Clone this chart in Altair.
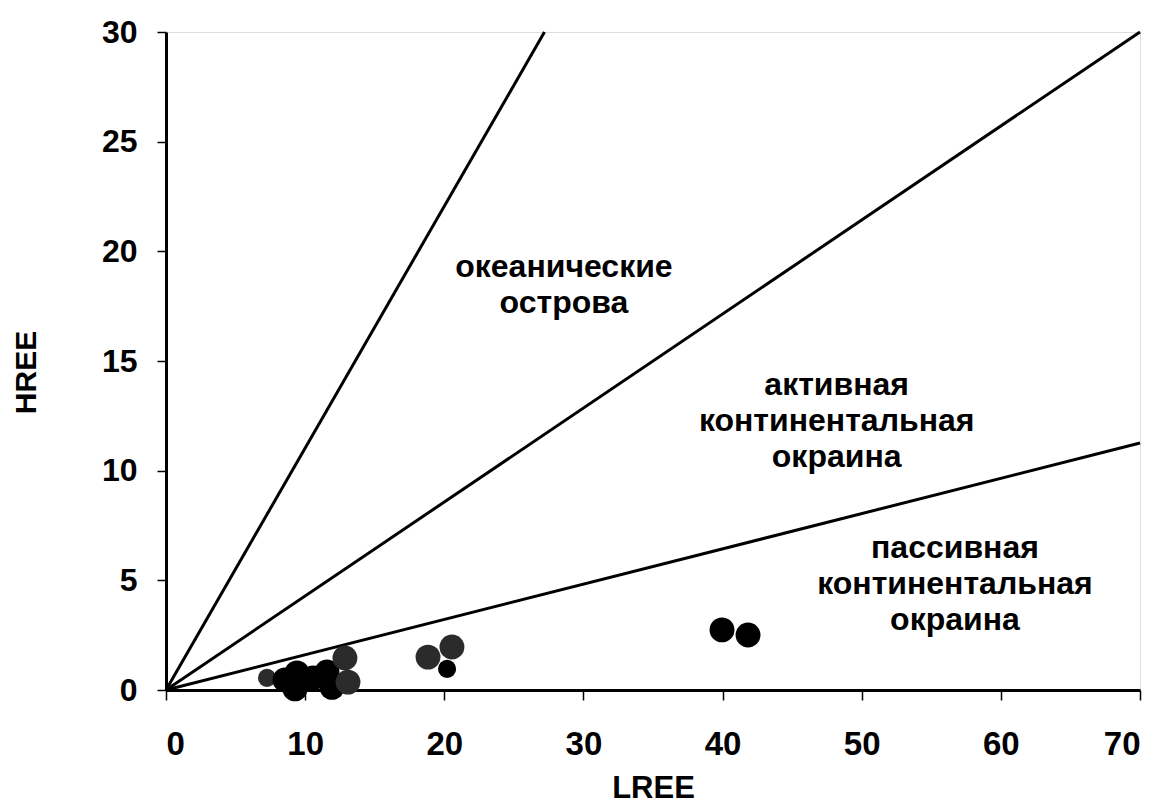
import altair as alt
import pandas as pd

# Data points (LREE, HREE)
lree = [7.26, 8.55, 9.41, 9.27, 10.56, 11.57, 11.93, 12.86, 13.08, 18.83, 20.55, 20.2, 39.96, 41.83]
hree = [0.55, 0.46, 0.78, 0.05, 0.55, 0.82, 0.12, 1.46, 0.36, 1.50, 1.96, 0.96, 2.74, 2.51]
group = ["small", "large", "large", "large", "large", "large", "large", "large", "large", "large", "large", "small", "large", "large"]
shade = ["grey", "black", "black", "black", "black", "black", "black", "grey", "grey", "grey", "grey", "black", "black", "black"]

# Discrimination lines from origin
line_x_end = [27.2, 70, 70]
line_y_end = [30, 30, 11.26]

# Field labels
label_text = ["океанические\nострова", "активная\nконтинентальная\nокраина", "пассивная\nконтинентальная\nокраина"]
label_x = [28.6, 48.2, 56.7]
label_y = [19.29, 13.9, 6.47]

pts = pd.DataFrame({"LREE": lree, "HREE": hree, "g": group, "c": shade})
lines = pd.DataFrame({"x0": [0, 0, 0], "y0": [0, 0, 0], "x1": line_x_end, "y1": line_y_end})
labels = pd.DataFrame({"t": label_text, "x": label_x, "y": label_y})

xs = alt.Scale(domain=[0, 70], nice=False, zero=True)
ys = alt.Scale(domain=[0, 30], nice=False, zero=True)

FONT = "Liberation Sans, Arial, sans-serif"

xaxis = alt.Axis(values=list(range(0, 71, 10)), grid=False, domainColor="black", domainWidth=3,
                 tickColor="black", tickWidth=1.5, tickSize=10, labelFont=FONT,
                 labelFontSize=33, labelFontWeight="bold", labelColor="black", labelPadding=28,
                 title="LREE", titleFont=FONT, titleFontSize=31, titleFontWeight="bold",
                 titleColor="black", titleY=98, titleBaseline="middle")
yaxis = alt.Axis(values=list(range(0, 31, 5)), grid=False, domainColor="black", domainWidth=3,
                 tickColor="black", tickWidth=1.5, tickSize=9, labelFont=FONT,
                 labelFontSize=32, labelFontWeight="bold", labelColor="black", labelPadding=20,
                 title="HREE", titleFont=FONT, titleFontSize=30, titleFontWeight="bold",
                 titleColor="black", titleX=-140, titleY=340, titleBaseline="middle")

rules = alt.Chart(lines).mark_rule(color="black", strokeWidth=3).encode(
    x=alt.X("x0:Q", scale=xs, axis=xaxis),
    y=alt.Y("y0:Q", scale=ys, axis=yaxis),
    x2="x1:Q",
    y2="y1:Q",
)

points = alt.Chart(pts).mark_circle(opacity=1).encode(
    x=alt.X("LREE:Q", scale=xs),
    y=alt.Y("HREE:Q", scale=ys),
    size=alt.Size("g:N", scale=alt.Scale(domain=["small", "large"], range=[330, 620]), legend=None),
    color=alt.Color("c:N", scale=alt.Scale(domain=["grey", "black"], range=["#2b2b2b", "#000000"]), legend=None),
)

texts = alt.Chart(labels).mark_text(font=FONT, fontSize=32, fontWeight="bold",
                                    color="black", align="center", baseline="middle",
                                    lineBreak="\n", lineHeight=36).encode(
    x=alt.X("x:Q", scale=xs),
    y=alt.Y("y:Q", scale=ys),
    text="t:N",
)

chart = alt.layer(rules, points, texts).properties(
    width=974, height=658,
    autosize=alt.AutoSizeParams(type="none"),
    padding={"left": 158, "top": 24, "right": 12, "bottom": 113},
).configure_view(stroke="black", strokeWidth=3).configure(background="white")

chart.save("out.html", embed_options={"renderer": "svg", "actions": False})
